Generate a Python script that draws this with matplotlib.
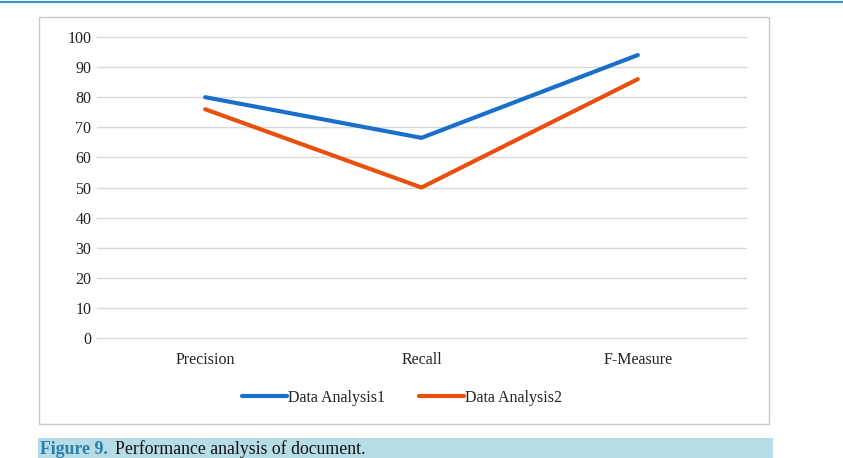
import matplotlib.pyplot as plt
from matplotlib.patches import Rectangle
from matplotlib.lines import Line2D

categories = ['Precision', 'Recall', 'F-Measure']
analysis1 = [80, 66.5, 94]
analysis2 = [76, 50, 86]
series_names = ['Data Analysis1', 'Data Analysis2']
yticks = [0, 10, 20, 30, 40, 50, 60, 70, 80, 90, 100]

W, H = 843, 458
plt.rcParams['font.family'] = ['Liberation Serif', 'DejaVu Serif']

fig = plt.figure(figsize=(W / 100, H / 100), dpi=100)

# top rule line across page
fig.add_artist(Line2D([0, 1], [1 - 2 / H, 1 - 2 / H], color='#3f93c4', lw=1.6))

# chart frame
fig.add_artist(Rectangle((39 / W, 1 - 424 / H), (769 - 39) / W, (424 - 17) / H,
                         transform=fig.transFigure, fill=False, edgecolor='#c9c9c9', lw=1.0))

# caption bar
fig.add_artist(Rectangle((38 / W, 0), (773 - 38) / W, (H - 438) / H,
                         transform=fig.transFigure, facecolor='#b6dce8', edgecolor='none'))
fig.text(40 / W, 1 - 449 / H, 'Figure 9.', fontsize=12.8, fontweight='bold',
         color='#2b7ea7', va='center', ha='left')
fig.text(115 / W, 1 - 449 / H, 'Performance analysis of document.', fontsize=12.8,
         color='#111111', va='center', ha='left')

# plot area
left, right = 97, 746
top, bottom = 37, 338
ax = fig.add_axes([left / W, 1 - bottom / H, (right - left) / W, (bottom - top) / H])
x = range(len(categories))
ax.plot(x, analysis1, color='#1a6fc8', lw=3, solid_capstyle='round', label=series_names[0])
ax.plot(x, analysis2, color='#e8500f', lw=3, solid_capstyle='round', label=series_names[1])
ax.set_xlim(-0.5, len(categories) - 0.5)
ax.set_ylim(0, 100)
ax.set_yticks(yticks)
ax.set_xticks(list(x))
ax.set_xticklabels(categories)
ax.yaxis.grid(True, color='#d9d9d9', lw=1)
for gl in ax.yaxis.get_gridlines():
    gl.set_clip_on(False)
ax.set_axisbelow(True)
for s in ax.spines.values():
    s.set_visible(False)
ax.tick_params(axis='both', length=0, labelsize=11.5, colors='#222222')
ax.tick_params(axis='y', pad=4)
ax.tick_params(axis='x', pad=10)

ax.legend(loc='upper center', bbox_to_anchor=(0.47, -0.125), ncol=2, frameon=False,
          fontsize=11.5, handlelength=2.8, handletextpad=0.1, columnspacing=2.1,
          labelcolor='#222222')

fig.savefig('out.png', dpi=100)
